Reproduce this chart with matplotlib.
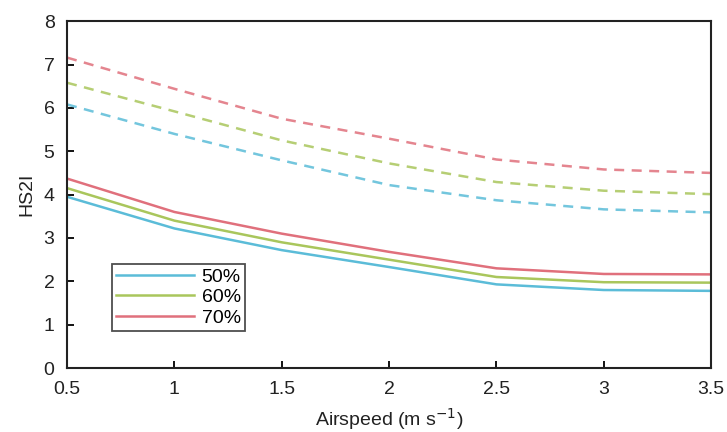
import matplotlib
matplotlib.use("Agg")
from matplotlib import pyplot as plt

airspeed = [0.5, 1.0, 1.5, 2.0, 2.5, 3.0, 3.5]

# solid curves
rh50 = [3.95, 3.22, 2.72, 2.33, 1.93, 1.80, 1.78]
rh60 = [4.15, 3.40, 2.90, 2.50, 2.10, 1.98, 1.97]
rh70 = [4.37, 3.60, 3.10, 2.68, 2.30, 2.17, 2.16]

# dashed curves
rh50_d = [6.08, 5.40, 4.79, 4.22, 3.87, 3.66, 3.59]
rh60_d = [6.58, 5.92, 5.25, 4.72, 4.29, 4.09, 4.01]
rh70_d = [7.16, 6.44, 5.75, 5.29, 4.81, 4.58, 4.50]

labels = ['50%', '60%', '70%']
colors = ['#5bbcd8', '#a9c65c', '#e0707c']

plt.rcParams['font.family'] = ['Liberation Sans', 'DejaVu Sans']
plt.rcParams['axes.unicode_minus'] = False

fig = plt.figure(figsize=(7.27, 4.32), dpi=100)
ax = fig.add_axes([0.0922, 0.148, 0.886, 0.803])

for ys, c, lab in zip([rh50, rh60, rh70], colors, labels):
    ax.plot(airspeed, ys, color=c, lw=1.8, label=lab)
for ys, c in zip([rh50_d, rh60_d, rh70_d], colors):
    ax.plot(airspeed, ys, color=c, lw=1.8, ls=(0, (4, 3)), alpha=0.85)

ax.set_xlim(0.5, 3.5)
ax.set_ylim(0, 8)
ax.set_xticks([0.5, 1, 1.5, 2, 2.5, 3, 3.5])
ax.set_xticklabels(['0.5', '1', '1.5', '2', '2.5', '3', '3.5'])
ax.set_yticks(range(0, 9))
ax.tick_params(direction='in', length=5, width=1.3, labelsize=14,
               labelcolor='#222222', pad=9)
for sp in ax.spines.values():
    sp.set_linewidth(1.5)
    sp.set_color('#222222')

ax.set_xlabel('Airspeed (m s$^{-1}$)', fontsize=14, labelpad=6, color='#222222')
ax.set_ylabel('HS2I', fontsize=14, labelpad=6, color='#222222')

leg = ax.legend(loc='lower left', bbox_to_anchor=(0.07, 0.108), fontsize=14,
                frameon=True, fancybox=False, edgecolor='#222222',
                handlelength=4.0, borderpad=0.2, labelspacing=0.15,
                handletextpad=0.4, borderaxespad=0)
leg.get_frame().set_linewidth(1.3)

fig.savefig('out.png', dpi=100)
